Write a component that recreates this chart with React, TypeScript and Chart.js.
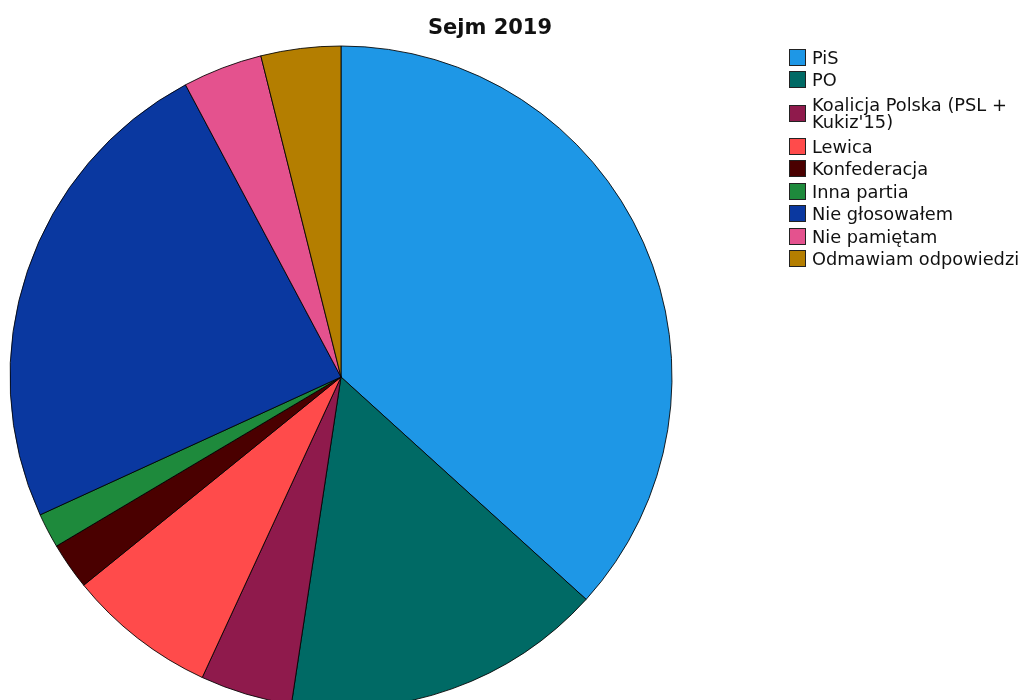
import React, { useEffect, useRef } from "react";
import { Chart, registerables } from "chart.js";

Chart.register(...registerables);

const title = "Sejm 2019";
const labels = [
  "PiS",
  "PO",
  "Koalicja Polska (PSL +\nKukiz'15)",
  "Lewica",
  "Konfederacja",
  "Inna partia",
  "Nie głosowałem",
  "Nie pamiętam",
  "Odmawiam odpowiedzi",
];
const values = [36.8, 15.7, 4.5, 7.3, 2.3, 1.7, 24.1, 3.9, 3.9];
const colors = [
  "#1E97E6",
  "#006A65",
  "#8F1A4C",
  "#FF4B4B",
  "#4A0000",
  "#1E8A3C",
  "#0A38A0",
  "#E4528E",
  "#B47E00",
];

export default function App() {
  const canvasRef = useRef<HTMLCanvasElement | null>(null);

  useEffect(() => {
    const canvas = canvasRef.current;
    if (!canvas) return;
    const chart = new Chart(canvas, {
      type: "pie",
      data: {
        labels: labels.map((l) => l.replace("\n", " ")),
        datasets: [
          {
            data: values,
            backgroundColor: colors,
            borderColor: "rgba(0,0,0,0.85)",
            borderWidth: 1,
            radius: 331,
            hoverOffset: 0,
          },
        ],
      },
      options: {
        responsive: false,
        animation: false,
        layout: { padding: { left: 10, right: 352, top: 54, bottom: 0 } },
        plugins: {
          legend: { display: false },
          title: { display: false },
          tooltip: { enabled: false },
        },
      },
    });
    return () => chart.destroy();
  }, []);

  return (
    <div
      style={{
        position: "fixed",
        left: 0,
        top: 0,
        width: 1024,
        height: 700,
        overflow: "hidden",
        background: "#fff",
      }}
    >
      <canvas
        ref={canvasRef}
        width={1024}
        height={700}
        style={{ position: "absolute", left: 0, top: 0, width: 1024, height: 700 }}
      />
      <div
        style={{
          position: "absolute",
          left: 390,
          top: 17,
          width: 200,
          textAlign: "center",
          fontFamily: "'DejaVu Sans', sans-serif",
          fontWeight: "bold",
          fontSize: 21,
          lineHeight: "21px",
          color: "#111",
        }}
      >
        {title}
      </div>
      <div
        style={{
          position: "absolute",
          left: 789,
          top: 46,
          display: "flex",
          flexDirection: "column",
          fontFamily: "'DejaVu Sans', sans-serif",
          fontSize: 17.8,
          color: "#111",
        }}
      >
        {labels.map((l, i) => {
          const multi = l.includes("\n");
          return (
            <div
              key={l}
              style={{
                display: "flex",
                alignItems: "center",
                minHeight: 22.5,
                padding: multi ? "2px 0 2px 0" : 0,
              }}
            >
              <div
                style={{
                  width: 15,
                  height: 15,
                  border: "1px solid #222",
                  background: colors[i],
                  flex: "0 0 auto",
                }}
              />
              <div
                style={{
                  marginLeft: 6,
                  lineHeight: "17.5px",
                  padding: "2.5px 0",
                  whiteSpace: "pre-line",
                }}
              >
                {l}
              </div>
            </div>
          );
        })}
      </div>
    </div>
  );
}
